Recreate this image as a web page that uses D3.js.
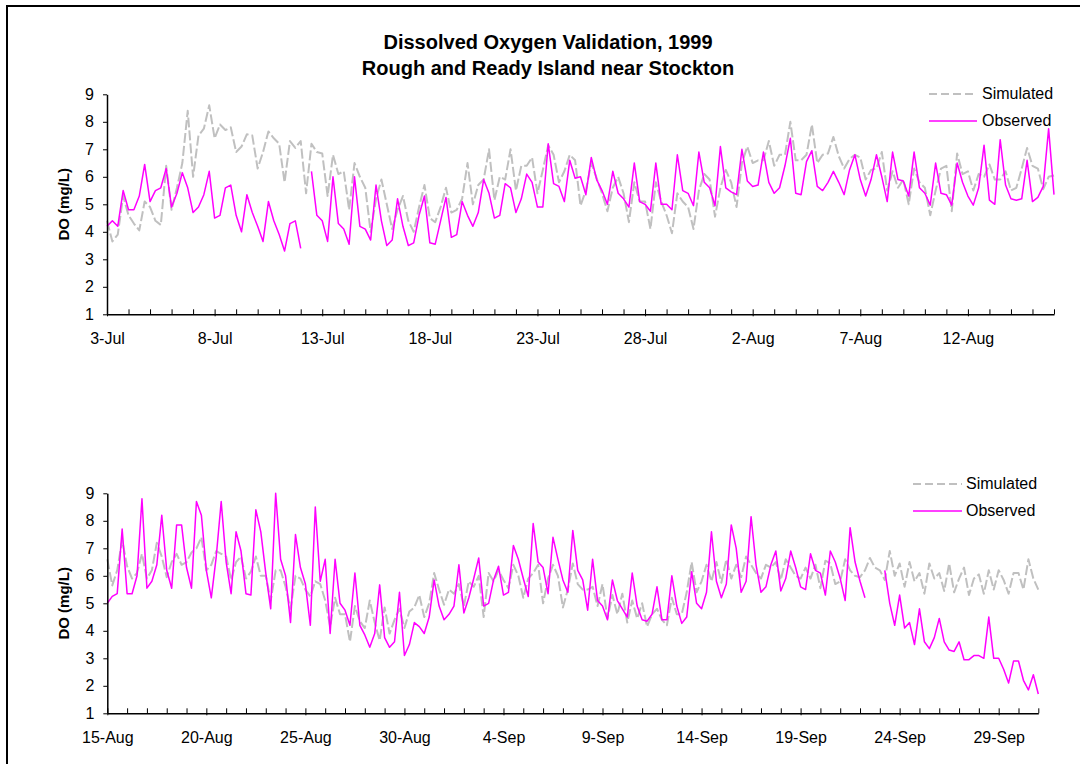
<!DOCTYPE html>
<html><head><meta charset="utf-8">
<script src="https://cdn.jsdelivr.net/npm/d3@7"></script>
<style>
body{margin:0;background:#fff;}
svg{display:block;font-family:"Liberation Sans",Arial,sans-serif;}
</style></head><body>
<svg id="c" width="1080" height="764"></svg>
<script>
// ---- data (values every 6 hours, starting at midnight of first day) ----
const titleLines = ["Dissolved Oxygen Validation, 1999", "Rough and Ready Island near Stockton"];
const seriesNames = ["Simulated", "Observed"];
const yTicks = [1,2,3,4,5,6,7,8,9];

const topTickLabels = ["3-Jul","8-Jul","13-Jul","18-Jul","23-Jul","28-Jul","2-Aug","7-Aug","12-Aug"];
const topDays = 44;
const topObserved = [
4.2,4.4,4.2,5.5, 4.8,4.8,5.3,6.45, 5.1,5.5,5.6,6.3, 4.9,5.4,6.15,5.6, 4.7,4.9,5.35,6.2,
4.5,4.6,5.6,5.7, 4.6,4.0,5.35,4.7, 4.2,3.65,5.1,4.4, 3.9,3.3,4.3,4.4, 3.4,null,6.2,4.6,
4.4,3.65,6.0,4.3, 4.1,3.55,6.0,4.2, 4.1,3.7,5.7,4.4, 3.5,3.7,5.2,4.2, 3.5,3.6,4.6,5.3,
3.6,3.55,4.4,5.25, 3.8,3.9,5.1,4.6, 4.2,4.7,5.9,5.4, 4.5,4.6,5.75,5.6, 4.7,5.2,6.1,5.8,
4.9,4.9,7.2,5.75, 5.65,5.1,6.6,5.95, 6.0,5.35,6.7,5.9, 5.5,5.0,6.2,5.4, 5.2,4.9,6.5,5.1,
5.0,4.75,6.5,5.0, 5.0,4.8,6.8,5.5, 5.4,4.95,6.9,5.8, 5.6,4.95,7.1,5.6, 5.45,5.35,7.0,5.85,
5.65,5.7,6.9,5.8, 5.4,5.6,6.4,7.4, 5.4,5.35,6.55,6.95, 5.65,5.5,5.8,6.2, 5.8,5.35,6.25,6.8,
5.9,5.3,5.9,6.8, 6.0,5.1,6.9,5.9, 5.85,5.3,6.9,5.6, 5.4,4.97,6.5,5.4, 5.35,4.97,6.5,5.8,
5.3,4.97,5.6,7.15, 5.15,5.0,7.35,5.7, 5.2,5.15,5.2,6.6, 5.1,5.25,5.65,7.75, 5.35
];
const topSimulated = [
4.4,3.65,3.9,5.3, 4.6,4.3,4.05,5.1, 4.9,4.4,4.25,6.4, 4.8,5.6,6.5,8.4, 6.0,7.5,7.75,8.6,
7.4,7.9,7.7,7.8, 6.9,7.1,7.55,7.5, 6.3,6.9,7.65,7.4, 7.2,5.8,7.3,7.05, 7.3,5.4,7.2,6.9,
6.85,5.3,6.8,6.1, 6.2,4.8,6.5,6.0, 5.6,4.0,5.2,5.9, 5.0,4.1,4.8,5.3, 4.4,4.0,4.9,5.7,
4.5,4.35,4.9,5.6, 4.7,4.8,5.2,6.5, 5.0,5.7,5.9,7.0, 5.15,6.0,5.9,7.0, 5.5,6.4,6.4,6.7,
5.4,6.25,7.15,6.8, 5.8,6.2,6.8,6.6, 4.95,5.5,6.5,5.95, 5.4,4.75,5.6,6.0, 5.4,4.35,5.8,5.1,
5.1,4.1,5.8,5.1, 4.6,3.95,5.4,5.1, 4.9,4.1,5.5,6.1, 5.9,4.55,5.6,6.25, 5.8,4.9,6.5,7.1,
6.5,6.6,6.6,7.3, 6.4,6.8,6.8,8.0, 6.6,6.6,6.8,7.9, 6.5,6.8,6.85,7.45, 6.75,6.3,6.65,6.8,
6.7,5.9,6.25,6.3, 6.9,5.5,6.2,5.6, 5.9,5.0,6.3,5.8, 5.6,4.6,5.5,6.3, 6.4,4.75,6.85,6.1,
6.2,5.5,6.1,6.0, 6.45,5.9,5.9,6.2, 5.5,5.6,6.3,7.05, 6.4,6.3,5.55,6.0, 6.05
];

const bottomTickLabels = ["15-Aug","20-Aug","25-Aug","30-Aug","4-Sep","9-Sep","14-Sep","19-Sep","24-Sep","29-Sep"];
const bottomDays = 47;
const bottomObserved = [
5.0,5.25,5.35,7.7, 5.35,5.35,6.0,8.8, 5.55,5.8,6.4,8.2, 6.2,5.55,7.85,7.85, 6.3,5.55,8.7,8.2,
6.2,5.2,6.7,8.7, 6.5,5.35,7.6,6.9, 5.35,5.3,8.4,7.6, 6.1,4.8,9.0,6.6, 6.0,4.3,7.5,6.3,
5.7,4.2,8.5,5.8, 6.6,3.9,6.6,5.0, 4.75,4.2,6.1,4.2, 3.85,3.4,3.9,5.67, 3.75,3.4,3.6,5.4,
3.1,3.5,4.3,4.15, 3.9,4.5,5.85,4.9, 4.4,4.6,4.9,6.4, 4.65,5.2,5.9,6.65, 4.9,5.0,5.85,6.35,
5.3,5.4,7.1,6.6, 5.9,5.25,7.9,6.5, 6.3,5.35,7.4,6.6, 5.85,5.4,7.65,6.2, 5.85,4.75,6.6,5.1,
4.9,4.4,5.85,5.1, 4.8,4.5,6.1,4.9, 4.4,4.35,4.6,5.6, 4.4,4.4,6.0,4.9, 4.27,4.5,6.15,5.0,
4.8,5.4,7.6,5.8, 5.2,5.7,7.85,7.0, 5.4,5.8,8.15,6.4, 5.4,5.6,6.4,6.9, 5.45,5.9,6.9,6.3,
5.6,5.5,6.8,6.2, 6.1,5.3,6.9,6.5, 5.9,5.1,7.75,6.5, 5.8,5.2,null,null, null,6.2,5.0,4.2,
5.3,4.1,4.3,3.5, 4.8,3.6,3.35,3.75, 4.45,3.6,3.3,3.25, 3.6,2.95,2.95,3.1, 3.1,3.0,4.5,3.0,
3.0,2.6,2.1,2.9, 2.9,2.2,1.85,2.4, 1.7
];
const bottomSimulated = [
6.6,5.65,6.2,7.3, 6.35,5.9,6.1,6.8, 5.9,6.2,7.2,6.7, 5.95,6.5,6.8,6.4, 6.5,6.85,7.0,7.4,
6.2,6.4,6.9,6.8, 6.7,5.85,6.5,6.7, 5.9,6.15,6.7,6.0, 6.0,5.1,6.2,6.2, 5.6,4.8,6.0,5.9,
5.5,5.25,5.8,5.7, 5.1,4.15,5.2,4.6, 4.6,3.6,4.9,4.35, 4.1,5.1,4.3,3.65, 4.85,3.9,4.4,4.8,
4.1,4.7,4.85,5.3, 4.5,5.0,6.1,5.5, 4.95,5.5,5.35,5.7, 4.9,5.8,5.6,6.0, 4.5,6.1,5.8,6.2,
5.85,5.55,6.4,6.0, 5.2,5.9,6.1,6.4, 5.0,5.9,6.4,6.0, 4.85,5.5,6.45,5.7, 5.5,5.5,5.6,4.9,
5.7,4.45,5.3,4.6, 5.35,4.3,5.1,4.45, 5.0,4.15,4.6,4.8, 4.4,4.2,5.2,4.6, 4.6,5.4,6.5,5.4,
5.8,6.4,5.8,6.5, 5.75,6.6,5.9,6.4, 5.95,6.7,6.4,6.1, 5.9,6.4,6.3,6.5, 5.85,6.6,6.3,6.0,
5.9,6.3,5.9,6.4, 5.55,6.55,6.45,5.7, 5.8,6.6,6.2,6.0, 5.95,6.2,6.65,6.3, 6.2,5.85,6.9,6.0,
6.45,5.6,6.5,5.8, 6.1,5.35,6.45,5.9, 6.1,5.45,6.45,5.4, 5.9,6.3,5.3,5.9, 6.05,5.35,6.2,5.5,
6.2,5.85,5.35,6.1, 6.1,5.5,6.6,5.9, 5.5
];

// ---- drawing ----
const svg = d3.select("#c");
const FONT = '"Liberation Sans",Arial,sans-serif';
const colSim = "#c0c0c0", colObs = "#ff00ff";

svg.append("rect").attr("x",7).attr("y",6).attr("width",1200).attr("height",900)
  .attr("fill","none").attr("stroke","#000").attr("stroke-width",2);

svg.append("text").attr("x",548).attr("y",49).attr("text-anchor","middle")
  .attr("font-size",20).attr("font-weight","bold").text(titleLines[0]);
svg.append("text").attr("x",548).attr("y",75).attr("text-anchor","middle")
  .attr("font-size",20).attr("font-weight","bold").text(titleLines[1]);

function panel(cfg){
  const x = d3.scaleLinear().domain([0,cfg.days]).range([cfg.x0,cfg.x1]);
  const y = d3.scaleLinear().domain([1,9]).range([cfg.yb,cfg.yt]);
  const g = svg.append("g");

  // lines
  const line = d3.line().defined(v=>v!=null).x((v,i)=>x(i/4)).y(v=>y(v));
  g.append("path").datum(cfg.sim).attr("d",line).attr("fill","none")
    .attr("stroke",colSim).attr("stroke-width",2).attr("stroke-dasharray","10,3")
    .attr("stroke-linejoin","round");
  g.append("path").datum(cfg.obs).attr("d",line).attr("fill","none")
    .attr("stroke",colObs).attr("stroke-width",1.5).attr("stroke-linejoin","round");

  // y axis
  const ya = g.append("g").attr("transform",`translate(${cfg.x0},0)`)
    .call(d3.axisLeft(y).tickValues(yTicks).tickSize(4).tickSizeOuter(0).tickPadding(9).tickFormat(d3.format("d")));
  ya.selectAll("text").attr("font-size",16).attr("font-family",FONT).attr("fill","#000");
  ya.select(".domain").attr("stroke","#000").attr("stroke-width",1.5);

  // x minor ticks (daily, inside)
  const minor = d3.range(0,cfg.days+1);
  const xm = g.append("g").attr("transform",`translate(0,${cfg.yb})`)
    .call(d3.axisTop(x).tickValues(minor).tickSize(5).tickSizeOuter(0).tickFormat(""));
  xm.select(".domain").remove();
  // x major ticks
  const major = d3.range(0,cfg.days+1,5);
  const xa = g.append("g").attr("transform",`translate(0,${cfg.yb})`)
    .call(d3.axisBottom(x).tickValues(major).tickSize(2).tickSizeOuter(0).tickPadding(16)
      .tickFormat((d,i)=>cfg.labels[i]));
  xa.selectAll("text").attr("font-size",16).attr("font-family",FONT).attr("fill","#000");
  xa.select(".domain").attr("stroke","#000").attr("stroke-width",1.5);
  g.selectAll(".tick line").attr("stroke","#000");

  // y label
  g.append("text").attr("transform",`translate(69,${(cfg.yt+cfg.yb)/2}) rotate(-90)`)
    .attr("text-anchor","middle").attr("font-size",15).attr("font-weight","bold").text("DO (mg/L)");

  // legend
  const L = cfg.leg;
  g.append("line").attr("x1",L.x1).attr("x2",L.x2).attr("y1",L.y).attr("y2",L.y)
    .attr("stroke",colSim).attr("stroke-width",2).attr("stroke-dasharray","8,4");
  g.append("text").attr("x",L.tx).attr("y",L.y+5).attr("font-size",16).text(seriesNames[0]);
  g.append("line").attr("x1",L.x1).attr("x2",L.x2).attr("y1",L.y+27).attr("y2",L.y+27)
    .attr("stroke",colObs).attr("stroke-width",1.5);
  g.append("text").attr("x",L.tx).attr("y",L.y+32).attr("font-size",16).text(seriesNames[1]);
}

panel({days:topDays, x0:107, x1:1054, yt:94.3, yb:314.3, sim:topSimulated, obs:topObserved,
  labels:topTickLabels, leg:{x1:929,x2:977,tx:982,y:94}});
panel({days:bottomDays, x0:107.3, x1:1038.3, yt:493.3, yb:713.3, sim:bottomSimulated, obs:bottomObserved,
  labels:bottomTickLabels, leg:{x1:913,x2:962,tx:966,y:484}});
</script>
</body></html>
